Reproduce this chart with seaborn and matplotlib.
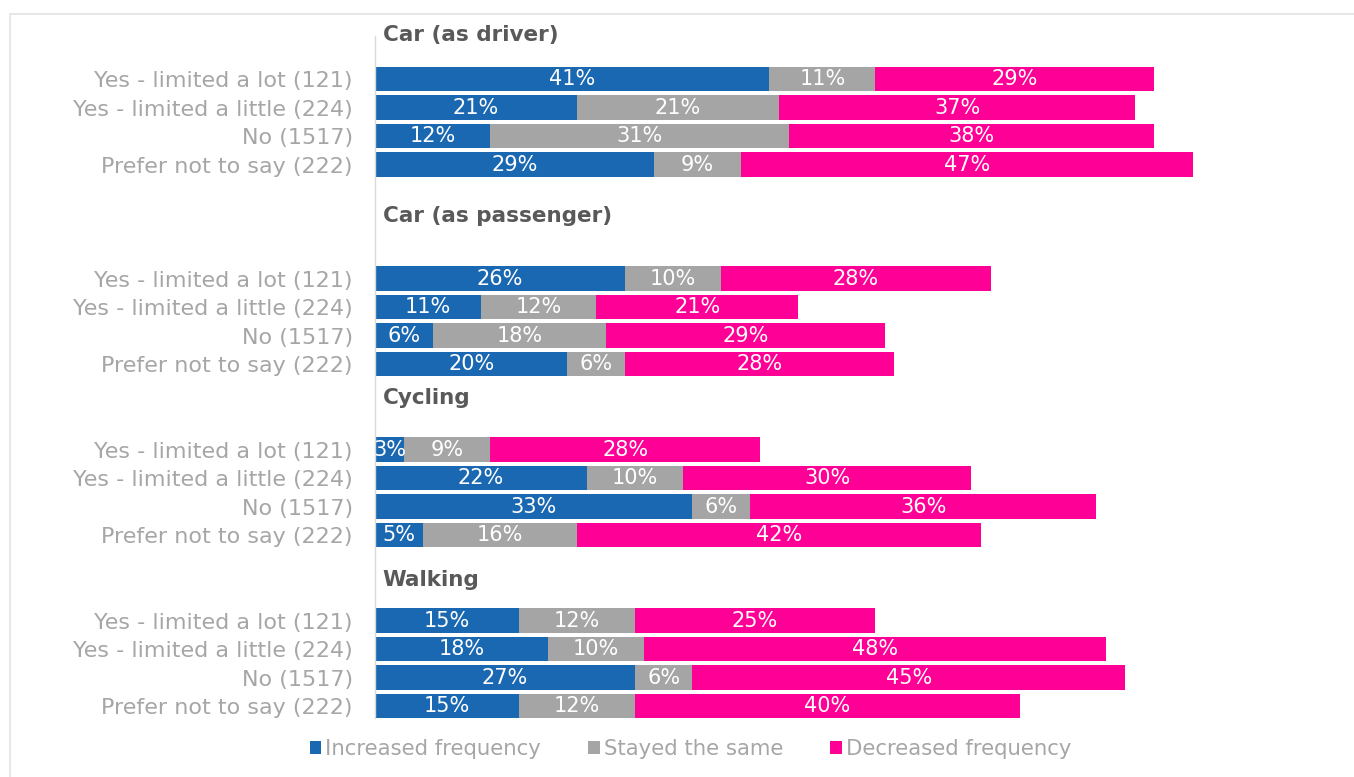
import matplotlib.pyplot as plt
import seaborn as sns
import pandas as pd
from matplotlib.patches import Patch, Rectangle

# groups and answers
groups = ["Car (as driver)", "Car (as passenger)", "Cycling", "Walking"]
answers = ["Yes - limited a lot (121)", "Yes - limited a little (224)",
           "No (1517)", "Prefer not to say (222)"]
series = ["Increased frequency", "Stayed the same", "Decreased frequency"]

increased = [41, 21, 12, 29,
             26, 11, 6, 20,
             3, 22, 33, 5,
             15, 18, 27, 15]
same = [11, 21, 31, 9,
        10, 12, 18, 6,
        9, 10, 6, 16,
        12, 10, 6, 12]
decreased = [29, 37, 38, 47,
             28, 21, 29, 28,
             28, 30, 36, 42,
             25, 48, 45, 40]

# row positions of the bars and of the group titles
row_pos = [0, 1, 2, 3, 7, 8, 9, 10, 13, 14, 15, 16, 19, 20, 21, 22]
title_pos = [-1.54, 4.81, 11.19, 17.58]

colors = ["#1a68b2", "#a5a5a5", "#ff0096"]
label_grey = "#a6a6a6"

df = pd.DataFrame({
    "pos": row_pos,
    "label": answers * len(groups),
    "inc": increased,
    "same": same,
    "dec": decreased,
})
df["c1"] = df["inc"]
df["c2"] = df["inc"] + df["same"]
df["c3"] = df["c2"] + df["dec"]

sns.set_theme(style="white")
plt.rcParams["font.family"] = ["DejaVu Sans"]

fig = plt.figure(figsize=(13.54, 7.77), dpi=100)
ax = fig.add_axes([375 / 1354, 1 - 718 / 777, 962 / 1354, 682 / 777])

# stacked bars: draw cumulative totals from the back
for col, c in zip(["c3", "c2", "c1"], colors[::-1]):
    sns.barplot(data=df, x=col, y="pos", orient="y", native_scale=True,
                color=c, saturation=1, width=0.85, ax=ax, linewidth=0)

# segment labels
for _, r in df.iterrows():
    starts = [0, r["c1"], r["c2"]]
    for s, v in zip(starts, [r["inc"], r["same"], r["dec"]]):
        ax.text(s + v / 2, r["pos"], f"{v}%", ha="center", va="center",
                color="white", fontsize=15, clip_on=True)

for g, p in zip(groups, title_pos):
    ax.text(0.8, p, g, ha="left", va="center", fontsize=15.5,
            fontweight="bold", color="#595959")

ax.set_xlim(0, 100)
ax.set_ylim(22.42, -1.51)
ax.set_yticks(row_pos, df["label"])
ax.set_xticks([])
ax.set_xlabel("")
ax.set_ylabel("")
ax.tick_params(axis="y", length=0, labelsize=16, labelcolor=label_grey, pad=16)
for side in ["top", "right", "bottom"]:
    ax.spines[side].set_visible(False)
ax.spines["left"].set_color("#d9d9d9")
ax.spines["left"].set_linewidth(1)

handles = [Patch(facecolor=c, edgecolor="none", label=s) for c, s in zip(colors, series)]
fig.legend(handles=handles, loc="center", bbox_to_anchor=(0.51, 1 - 749 / 777),
           ncol=3, frameon=False, fontsize=15.3, labelcolor=label_grey,
           handlelength=0.55, handleheight=0.55, handletextpad=0.2, columnspacing=2.2)

# outer chart frame
fig.add_artist(Rectangle((10 / 1354, -0.1), 1.2, 1 - 14 / 777 + 0.1,
                         transform=fig.transFigure, fill=False,
                         edgecolor="#e3e3e3", linewidth=1.2))

fig.savefig("out.png", dpi=100)
